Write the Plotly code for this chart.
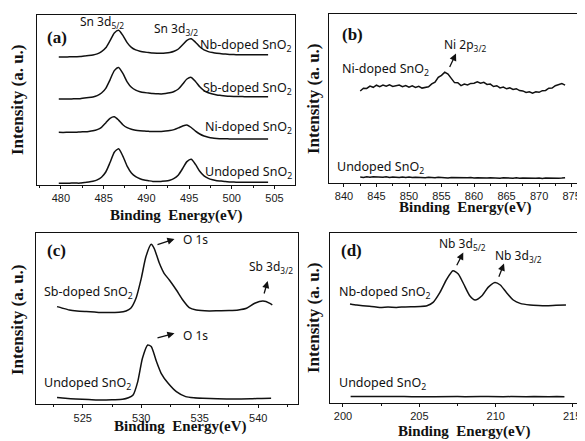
import plotly.graph_objects as go

# page is 585x441; the html body has an 8px margin, so the figure is 577x433 at (8, 8)
PAGE_OFF = 8
W, H = 577, 433

# ---------------- data: panel (a) Sn 3d ----------------
energy_a = [479.75, 480.25, 480.75, 481.25, 481.75, 482.25, 482.75, 483.25, 483.75, 484.25,
            484.75, 485.25, 485.75, 486.25, 486.75, 487.25, 487.75, 488.25, 488.75, 489.25,
            489.75, 490.25, 490.75, 491.25, 491.75, 492.25, 492.75, 493.25, 493.75, 494.25,
            494.75, 495.25, 495.75, 496.25, 496.75, 497.25, 497.75, 498.25, 498.75, 499.25,
            499.75, 500.25, 500.75, 501.25, 501.75, 502.25, 502.75, 503.25, 503.75, 504.25]
nb_a = [128.0, 128.0, 128.1, 128.2, 128.3, 128.4, 129.0, 129.4, 130.0, 131.1,
        133.3, 137.2, 144.4, 152.1, 154.8, 149.6, 142.4, 137.6, 135.1, 133.8,
        132.9, 132.5, 132.0, 131.8, 131.7, 132.0, 132.6, 133.8, 136.0, 140.2,
        144.7, 146.2, 142.8, 138.2, 135.1, 133.4, 132.4, 131.7, 131.3, 130.9,
        130.6, 130.4, 130.3, 130.3, 130.2, 130.2, 130.2, 130.2, 130.2, 130.2]
sb_a = [86.0, 86.0, 86.1, 86.1, 86.2, 86.3, 87.0, 87.4, 88.1, 89.4,
        92.0, 96.7, 105.2, 114.4, 117.6, 111.6, 103.2, 97.7, 94.8, 93.3,
        92.4, 92.0, 91.5, 91.3, 91.1, 91.5, 92.2, 93.5, 96.0, 100.9,
        106.0, 107.6, 103.6, 98.2, 94.4, 92.2, 91.0, 90.1, 89.6, 89.1,
        88.7, 88.5, 88.4, 88.4, 88.3, 88.3, 88.3, 88.3, 88.3, 88.3]
ni_a = [52.7, 52.6, 52.7, 52.8, 52.7, 53.1, 53.3, 53.6, 54.2, 55.4,
        57.7, 62.1, 66.7, 68.2, 64.9, 60.3, 57.3, 55.7, 54.8, 54.3,
        54.0, 53.7, 53.4, 53.5, 53.6, 53.9, 54.4, 55.4, 57.1, 59.0,
        60.0, 57.5, 53.9, 51.0, 49.0, 47.8, 47.0, 46.6, 46.3, 46.2,
        46.1, 46.1, 46.0, 46.0, 46.0, 46.0, 46.0, 46.0, 46.0, 46.0]
und_a = [1.8, 1.8, 1.8, 1.9, 1.9, 1.9, 2.6, 3.0, 3.7, 5.1,
         7.8, 13.0, 22.5, 32.8, 36.3, 28.9, 18.8, 12.0, 8.4, 6.3,
         5.0, 4.3, 3.6, 3.4, 3.6, 3.9, 4.8, 6.6, 10.1, 16.5,
         23.4, 25.7, 20.6, 13.7, 9.1, 6.6, 5.2, 4.3, 3.9, 3.4,
         3.1, 2.9, 2.8, 2.8, 2.7, 2.7, 2.7, 2.7, 2.7, 2.7]

# ---------------- data: panel (b) Ni 2p ----------------
energy_b = [842.5, 843.0, 843.5, 844.0, 844.5, 845.0, 845.5, 846.0, 846.5, 847.0,
            847.5, 848.0, 848.5, 849.0, 849.5, 850.0, 850.5, 851.0, 851.5, 852.0,
            852.5, 853.0, 853.5, 854.0, 854.5, 855.0, 855.5, 856.0, 856.5, 857.0,
            857.5, 858.0, 858.5, 859.0, 859.5, 860.0, 860.5, 861.0, 861.5, 862.0,
            862.5, 863.0, 863.5, 864.0, 864.5, 865.0, 865.5, 866.0, 866.5, 867.0,
            867.5, 868.0, 868.5, 869.0, 869.5, 870.0, 870.5, 871.0, 871.5, 872.0,
            872.5, 873.0, 873.5, 874.0]
ni_b = [92.0, 94.8, 94.6, 96.9, 95.7, 97.8, 96.4, 97.9, 96.8, 98.1,
        96.6, 97.6, 97.9, 96.3, 97.4, 95.8, 97.1, 95.6, 96.7, 94.9,
        95.8, 96.2, 99.1, 100.9, 105.6, 107.6, 110.8, 108.9, 104.6, 100.4,
        100.3, 97.4, 98.9, 98.1, 99.6, 99.8, 101.1, 99.7, 100.6, 98.6,
        98.9, 96.5, 97.3, 95.1, 95.9, 94.2, 95.1, 93.5, 94.3, 92.4,
        92.1, 90.6, 91.3, 89.9, 91.2, 90.7, 92.3, 92.6, 94.8, 95.0,
        97.3, 98.0, 99.4, 97.8]
und_b = [6.0, 5.6, 6.2, 5.8, 6.3, 5.9, 6.1, 5.7, 6.2, 5.6,
         6.0, 5.8, 5.5, 6.1, 5.6, 5.9, 5.4, 5.8, 5.5, 5.9,
         5.3, 5.7, 5.5, 5.2, 5.8, 5.4, 5.6, 5.1, 5.5, 5.3,
         5.6, 5.0, 5.4, 5.2, 5.5, 5.0, 5.3, 5.1, 5.4, 4.9,
         5.3, 5.0, 5.2, 4.8, 5.3, 4.9, 5.1, 4.8, 5.2, 4.7,
         5.1, 4.9, 4.7, 5.1, 4.8, 5.0, 4.6, 5.0, 4.8, 4.6,
         5.0, 4.7, 4.9, 5.3]

# ---------------- data: panel (c) O 1s / Sb 3d ----------------
energy_c_sb = [522.8, 523.3, 523.85, 524.5, 525.3, 526.0, 526.7, 527.4, 528.1, 528.7,
               529.1, 529.55, 530.0, 530.4, 530.85, 531.1, 531.55, 531.95, 532.4, 533.0,
               533.55, 534.1, 534.7, 535.8, 536.6, 537.5, 538.3, 539.0, 539.7, 540.4,
               541.0, 541.2]
sb_c = [97.7, 96.0, 94.3, 93.3, 92.7, 92.2, 91.7, 91.8, 92.0, 93.3,
        96.0, 106.0, 126.0, 147.7, 160.0, 156.0, 141.0, 131.0, 124.3, 114.3,
        104.3, 96.7, 94.3, 93.3, 93.5, 93.7, 94.3, 96.0, 101.0, 103.3,
        101.0, 99.3]
energy_c_und = [522.8, 523.5, 524.4, 525.5, 526.7, 527.6, 528.4, 528.9, 529.3, 529.7,
                530.1, 530.55, 530.85, 531.3, 531.7, 532.3, 533.0, 533.8, 534.5, 535.25,
                536.5, 538.1, 539.5, 540.3, 541.1]
und_c = [6.7, 6.0, 5.3, 4.8, 4.3, 4.6, 5.0, 6.5, 9.3, 22.7,
         46.0, 59.3, 57.7, 42.7, 31.0, 21.0, 12.7, 7.7, 6.5, 6.0,
         5.6, 5.3, 5.6, 5.8, 6.0]

# ---------------- data: panel (d) Nb 3d ----------------
energy_d_nb = [200.46, 200.9, 201.3, 201.85, 202.4, 202.95, 203.5, 204.05, 204.6, 205.05,
               205.5, 205.9, 206.35, 206.8, 207.2, 207.55, 207.9, 208.3, 208.65, 209.1,
               209.5, 209.95, 210.3, 210.7, 211.15, 211.6, 212.25, 212.8, 213.3, 213.95,
               214.6]
nb_d = [98.7, 97.6, 97.0, 96.3, 95.3, 95.6, 95.3, 95.8, 96.0, 96.2,
        97.0, 100.3, 110.3, 123.7, 132.0, 128.7, 118.7, 107.0, 102.7, 107.0,
        115.3, 120.3, 117.7, 110.3, 102.7, 99.3, 97.7, 97.2, 97.0, 97.4,
        97.7]
energy_d_und = [200.5, 201.0, 201.5, 202.0, 202.5, 203.0, 203.5, 204.0, 204.5, 205.0,
                205.5, 206.0, 206.5, 207.0, 207.5, 208.0, 208.5, 209.0, 209.5, 210.0,
                210.5, 211.0, 211.5, 212.0, 212.5, 213.0, 213.5, 214.0, 214.5]
und_d = [6.2, 6.0, 6.3, 5.9, 6.1, 6.2, 5.8, 6.1, 6.0, 6.3,
         5.9, 6.0, 6.2, 5.8, 6.1, 6.0, 5.7, 6.1, 6.2, 5.9,
         6.0, 6.1, 5.8, 6.0, 6.2, 5.9, 6.0, 6.1, 6.0]

tick_step = 5
minor_step = 2.5

# ---------------- layout geometry (page-pixel boxes: left, right, top, bottom) ----------------
panels = {
    "a": dict(box=(37, 295, 15, 185), xr=[477.2, 507.4]),
    "b": dict(box=(329, 582, 14, 183), xr=[837.7, 876.6]),
    "c": dict(box=(36, 298, 232.7, 404.3), xr=[521.0, 543.4]),
    "d": dict(box=(330, 582, 233, 402.7), xr=[199.15, 215.65]),
}
axis_ids = {"a": "", "b": "2", "c": "3", "d": "4"}

def fx(px):
    return (px - PAGE_OFF) / W

def fy(py):
    return 1 - (py - PAGE_OFF) / H

LINE = "#111111"
fig = go.Figure()

def add(panel, x, y, shape="spline"):
    k = axis_ids[panel]
    fig.add_trace(go.Scatter(x=x, y=y, mode="lines", xaxis="x" + k, yaxis="y" + k,
                             line=dict(color=LINE, width=1.5, shape=shape, smoothing=0.6),
                             showlegend=False, hoverinfo="skip"))

add("a", energy_a, nb_a)
add("a", energy_a, sb_a)
add("a", energy_a, ni_a)
add("a", energy_a, und_a)
add("b", energy_b, ni_b, "linear")
add("b", energy_b, und_b, "linear")
add("c", energy_c_sb, sb_c)
add("c", energy_c_und, und_c)
add("d", energy_d_nb, nb_d)
add("d", energy_d_und, und_d, "linear")

layout = dict(width=W, height=H, margin=dict(l=0, r=0, t=0, b=0),
              paper_bgcolor="white", plot_bgcolor="white", showlegend=False)
for p, spec in panels.items():
    x0, x1, y0, y1 = spec["box"]
    k = axis_ids[p]
    layout["xaxis" + k] = dict(
        domain=[fx(x0), min(fx(x1), 1.0)], range=spec["xr"], anchor="y" + k,
        showline=True, mirror=True, linecolor=LINE, linewidth=1.3,
        ticks="outside", ticklen=3, tickwidth=1, tickcolor=LINE,
        dtick=tick_step, tick0=0,
        minor=dict(ticks="outside", ticklen=2, tickwidth=1, tickcolor=LINE, dtick=minor_step, tick0=0),
        showgrid=False, zeroline=False,
        tickfont=dict(family="Liberation Sans Narrow, Liberation Sans, Arial", size=11, color="#1a1a1a"),
    )
    layout["yaxis" + k] = dict(
        domain=[fy(y1), fy(y0)], range=[0, y1 - y0], anchor="x" + k,
        showline=True, mirror=True, linecolor=LINE, linewidth=1.3,
        ticks="", showticklabels=False, showgrid=False, zeroline=False,
    )
fig.update_layout(**layout)

SANS = "Noto Sans, Liberation Sans, Arial"
SERIF = "Liberation Serif, Times New Roman, serif"
ann = []

def txt(s, px, py, size=12.5, family=SANS, xanchor="center", angle=0):
    ann.append(dict(text=s, x=fx(px), y=fy(py), xref="paper", yref="paper",
                    xanchor=xanchor, yanchor="middle", showarrow=False, textangle=angle,
                    font=dict(family=family, size=size, color="#111")))

def arrow(hx, hy, tx, ty):
    ann.append(dict(text="", x=fx(hx), y=fy(hy), xref="paper", yref="paper",
                    ax=tx - hx, ay=ty - hy, showarrow=True, arrowhead=2, arrowsize=1.1,
                    arrowwidth=1.3, arrowcolor="#111"))

SnO2 = "SnO<sub>2</sub>"
# panel (a)
txt("<b>(a)</b>", 57, 37, 17, SERIF)
txt("Sn 3d<sub>5/2</sub>", 102, 22, 12)
txt("Sn 3d<sub>3/2</sub>", 176, 29, 12)
txt("Nb-doped " + SnO2, 294, 45, 12.5, xanchor="right")
txt("Sb-doped " + SnO2, 294, 88, 12.5, xanchor="right")
txt("Ni-doped " + SnO2, 294, 128, 12.5, xanchor="right")
txt("Undoped " + SnO2, 294, 172.5, 12.5, xanchor="right")
# panel (b)
txt("<b>(b)</b>", 352, 34, 17, SERIF)
txt("Ni 2p<sub>3/2</sub>", 465, 45, 12)
arrow(456, 53.5, 449, 68.5)
txt("Ni-doped " + SnO2, 385, 70, 12.5)
txt("Undoped " + SnO2, 380, 167, 12.5)
# panel (c)
txt("<b>(c)</b>", 56, 250, 17, SERIF)
arrow(174.5, 239, 156, 245)
txt("O 1s", 181, 239, 12, xanchor="left")
txt("Sb 3d<sub>3/2</sub>", 271, 267, 12)
arrow(267.7, 281, 263.7, 295)
txt("Sb-doped " + SnO2, 88.5, 292, 12.5)
arrow(174.5, 333.3, 156, 338.3)
txt("O 1s", 181, 335, 12, xanchor="left")
txt("Undoped " + SnO2, 87.5, 383.5, 12.5)
# panel (d)
txt("<b>(d)</b>", 351, 250, 17, SERIF)
txt("Nb 3d<sub>5/2</sub>", 462, 243.5, 12)
arrow(463.3, 252.5, 456, 266.7)
txt("Nb 3d<sub>3/2</sub>", 518, 256, 12)
arrow(504, 263.5, 498.3, 278.3)
txt("Nb-doped " + SnO2, 385, 292, 12.5)
txt("Undoped " + SnO2, 382, 383.5, 12.5)
# axis titles
BE = "<b>Binding\u00a0 Energy(eV)</b>"
INT = "<b>Intensity (a. u.)</b>"
txt(BE, 176, 215.5, 15, SERIF)
txt(BE, 465, 207.5, 15, SERIF)
txt(BE, 180, 426, 15, SERIF)
txt(BE, 464, 431, 15, SERIF)
txt(INT, 17, 100, 17, SERIF, angle=-90)
txt(INT, 313, 99, 17, SERIF, angle=-90)
txt(INT, 17, 320, 17, SERIF, angle=-90)
txt(INT, 313, 318, 17, SERIF, angle=-90)

fig.update_layout(annotations=ann)
fig.write_html("out.html")
